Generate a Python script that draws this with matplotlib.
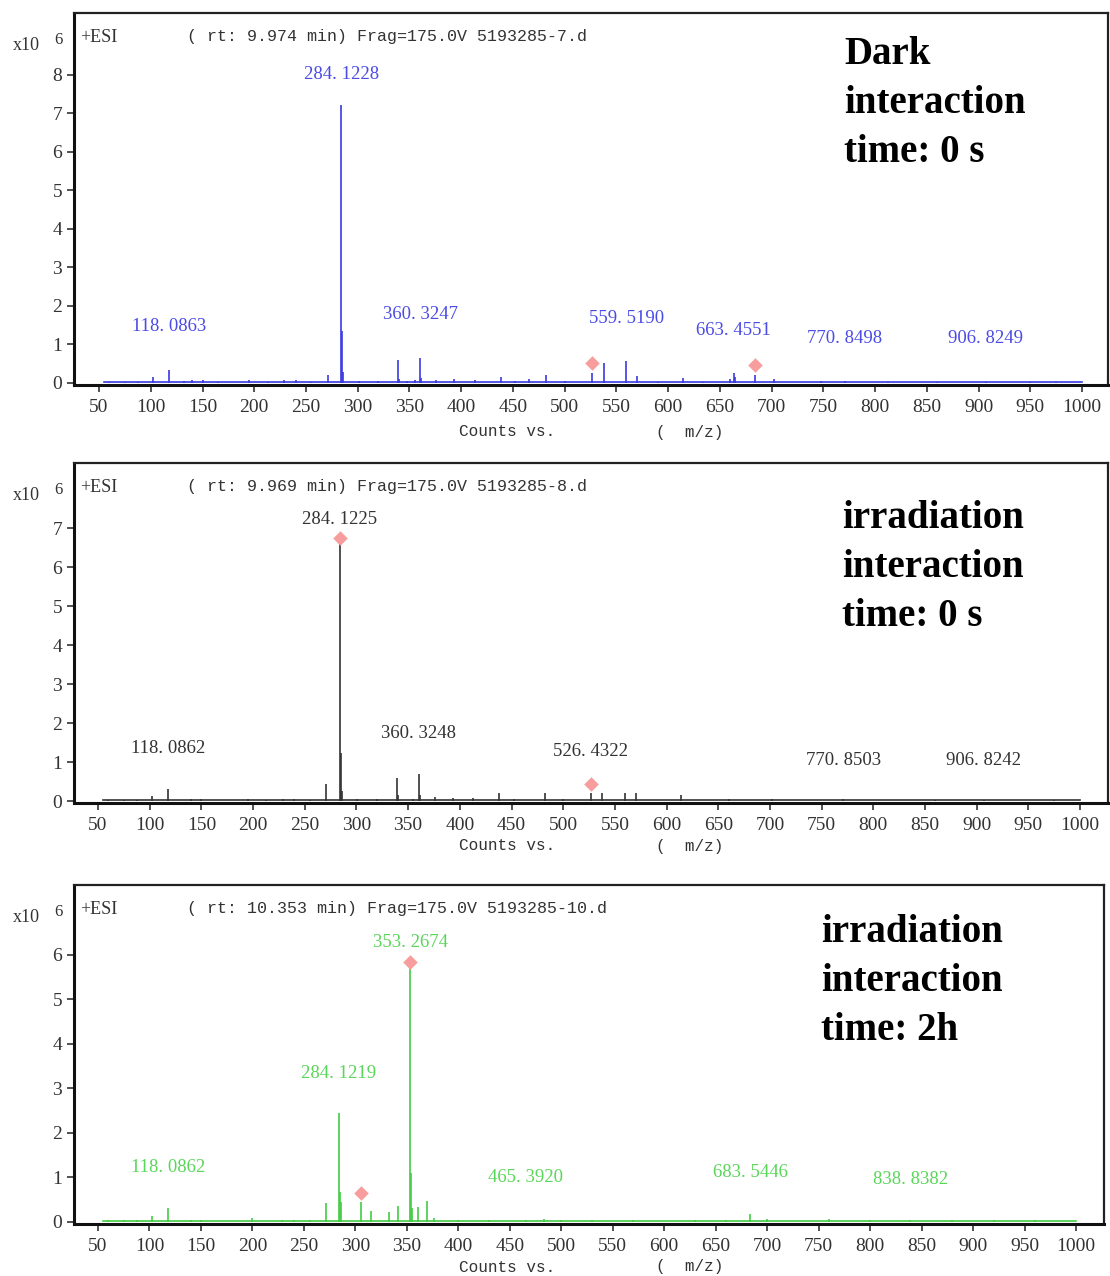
import matplotlib
matplotlib.use("Agg")
import matplotlib.pyplot as plt

plt.rcParams['font.family'] = ['Liberation Serif', 'DejaVu Serif']

# spectrum 1: dark, 0 s  (intensity in x10^6 counts)
mz_dark = [60, 75, 88, 102, 118.0863, 132, 140, 150, 165, 195, 213, 229, 240, 255,
           271, 284.1228, 285.13, 286.13, 301, 320, 339, 340, 348, 355, 360.3247,
           361.33, 376, 393, 413, 438, 452, 466, 482, 500, 526.4, 538, 559.5190,
           570, 590, 614, 634, 660, 663.4551, 665, 684, 702, 748, 770.8498, 812,
           860, 906.8249, 950, 975]
int_dark = [0.03, 0.03, 0.03, 0.16, 0.33, 0.04, 0.06, 0.06, 0.03, 0.06, 0.03, 0.07,
            0.06, 0.03, 0.20, 7.20, 1.33, 0.29, 0.04, 0.04, 0.59, 0.10, 0.05, 0.06,
            0.64, 0.12, 0.06, 0.09, 0.06, 0.15, 0.04, 0.10, 0.20, 0.04, 0.24, 0.52,
            0.56, 0.17, 0.03, 0.13, 0.03, 0.09, 0.24, 0.14, 0.20, 0.09, 0.04, 0.04,
            0.03, 0.03, 0.03, 0.03, 0.03]
lab_dark = [118.0863, 284.1228, 360.3247, 559.5190, 663.4551, 770.8498, 906.8249]
laby_dark = [1.46, 8.00, 1.77, 1.67, 1.35, 1.15, 1.15]
mark_dark = [526.4, 684.0]
marky_dark = [0.50, 0.45]

# spectrum 2: irradiation, 0 s
mz_irr0 = [60, 75, 88, 102, 118.0862, 140, 150, 195, 213, 229, 240, 255, 271,
           284.1225, 285.13, 286.13, 301, 320, 339, 340, 355, 360.3248, 361.33,
           376, 393, 413, 438, 452, 482, 500, 526.4322, 538, 560, 570, 614, 660,
           702, 770.8503, 860, 906.8242, 975]
int_irr0 = [0.03, 0.03, 0.03, 0.12, 0.30, 0.06, 0.05, 0.05, 0.03, 0.06, 0.05,
            0.03, 0.45, 6.60, 1.22, 0.26, 0.04, 0.04, 0.58, 0.15, 0.06, 0.69,
            0.15, 0.11, 0.08, 0.07, 0.20, 0.05, 0.21, 0.04, 0.21, 0.20, 0.20,
            0.20, 0.15, 0.06, 0.04, 0.04, 0.03, 0.03, 0.03]
lab_irr0 = [118.0862, 284.1225, 360.3248, 526.4322, 770.8503, 906.8242]
laby_irr0 = [1.36, 7.23, 1.74, 1.26, 1.05, 1.05]
mark_irr0 = [284.1225, 526.4322]
marky_irr0 = [6.74, 0.45]

# spectrum 3: irradiation, 2 h
mz_irr2 = [60, 75, 88, 102, 118.0862, 140, 150, 200, 229, 240, 256, 271,
           284.1219, 285.13, 286.13, 305.2, 315, 333, 341, 353.2674, 354.27,
           355.27, 361, 369.6, 376, 400, 430, 465.3920, 483, 500, 530, 570, 630,
           660, 683.5446, 700, 760, 800, 838.8382, 880, 920, 960]
int_irr2 = [0.03, 0.03, 0.03, 0.12, 0.30, 0.05, 0.05, 0.08, 0.05, 0.05, 0.04,
            0.42, 2.44, 0.66, 0.45, 0.45, 0.25, 0.22, 0.35, 5.70, 1.10, 0.30,
            0.33, 0.47, 0.08, 0.04, 0.04, 0.05, 0.06, 0.05, 0.03, 0.04, 0.04,
            0.05, 0.18, 0.06, 0.06, 0.04, 0.04, 0.04, 0.03, 0.03]
lab_irr2 = [118.0862, 284.1219, 353.2674, 465.3920, 683.5446, 838.8382]
laby_irr2 = [1.21, 3.33, 6.27, 0.99, 1.10, 0.94]
mark_irr2 = [305.2, 353.2674]
marky_irr2 = [0.64, 5.84]

headers = ["( rt: 9.974 min) Frag=175.0V 5193285-7.d",
           "( rt: 9.969 min) Frag=175.0V 5193285-8.d",
           "( rt: 10.353 min) Frag=175.0V 5193285-10.d"]
titles = ["Dark\ninteraction\ntime: 0 s",
          "irradiation\ninteraction\ntime: 0 s",
          "irradiation\ninteraction\ntime: 2h"]
yticks_list = [range(0, 9), range(0, 8), range(0, 7)]

spectra = [(mz_dark, int_dark, lab_dark, laby_dark, mark_dark, marky_dark),
           (mz_irr0, int_irr0, lab_irr0, laby_irr0, mark_irr0, marky_irr0),
           (mz_irr2, int_irr2, lab_irr2, laby_irr2, mark_irr2, marky_irr2)]
line_colors = ["#3a3ae0", "#333333", "#44cc44"]
text_colors = ["#4b4be6", "#333333", "#5ad65a"]

W, H = 1110, 1276
# panel boxes in pixels: left, top, right, bottom
boxes = [(74, 13, 1108, 385), (74, 463, 1108, 803), (74, 885, 1104, 1224)]
xlims = [(25.8, 1025.1), (26.8, 1027.0), (26.7, 1027.2)]
ylims = [(-0.06, 9.6), (-0.05, 8.67), (-0.05, 7.57)]
title_x = [844, 842, 821]
title_top = [36, 500, 914]
xlabel_y = [432, 846, 1267]

fig = plt.figure(figsize=(W / 100, H / 100), dpi=100)

for i in range(3):
    l, t, r, b = boxes[i]
    ax = fig.add_axes([l / W, 1 - b / H, (r - l) / W, (b - t) / H])
    mz, inten, labs, labys, marks, markys = spectra[i]

    ax.plot([55, 1000], [0.015, 0.015], color=line_colors[i], lw=1.2)
    ax.vlines(mz, 0, inten, color=line_colors[i], lw=1.2)
    ax.scatter(marks, markys, marker='D', s=55, color='#f79d9d', zorder=5, linewidths=0)
    for m, y in zip(labs, labys):
        ax.text(m, y, f"{m:.4f}".replace(".", ". "), color=text_colors[i],
                fontsize=13.5, ha='center', va='center')

    ax.set_xlim(*xlims[i])
    ax.set_ylim(*ylims[i])
    ax.set_xticks(range(50, 1001, 50))
    ax.set_yticks(list(yticks_list[i]))
    ax.tick_params(axis='both', labelsize=14, colors='#333333', length=5, width=1.2)
    ax.tick_params(axis='x', pad=5)
    for side in ['left', 'bottom']:
        ax.spines[side].set_linewidth(2.2)
        ax.spines[side].set_color('#111111')
    for side in ['top', 'right']:
        ax.spines[side].set_linewidth(1.6)
        ax.spines[side].set_color('#222222')

    fig.text(80 / W, 1 - (t + 24) / H, "+ESI", fontsize=13,
             va='center', ha='left', color='#333333')
    fig.text(187 / W, 1 - (t + 24) / H, headers[i], fontsize=12,
             va='center', ha='left', color='#333333', family='Liberation Mono')

    fig.text(13 / W, 1 - (t + 33) / H, "x10", fontsize=13, color='#333333',
             va='center', ha='left')
    fig.text(58 / W, 1 - (t + 27) / H, "6", fontsize=12, color='#333333',
             va='center', ha='center')

    fig.text(459 / W, 1 - xlabel_y[i] / H, "Counts vs.", fontsize=11.5,
             color='#333333', va='center', ha='left', family='Liberation Mono')
    fig.text(656 / W, 1 - xlabel_y[i] / H, "(  m/z)", fontsize=11.5,
             color='#333333', va='center', ha='left', family='Liberation Mono')

    fig.text(title_x[i] / W, 1 - title_top[i] / H, titles[i], fontsize=28,
             fontweight='bold', va='top', ha='left', linespacing=1.42)

fig.savefig("out.png", dpi=100)
